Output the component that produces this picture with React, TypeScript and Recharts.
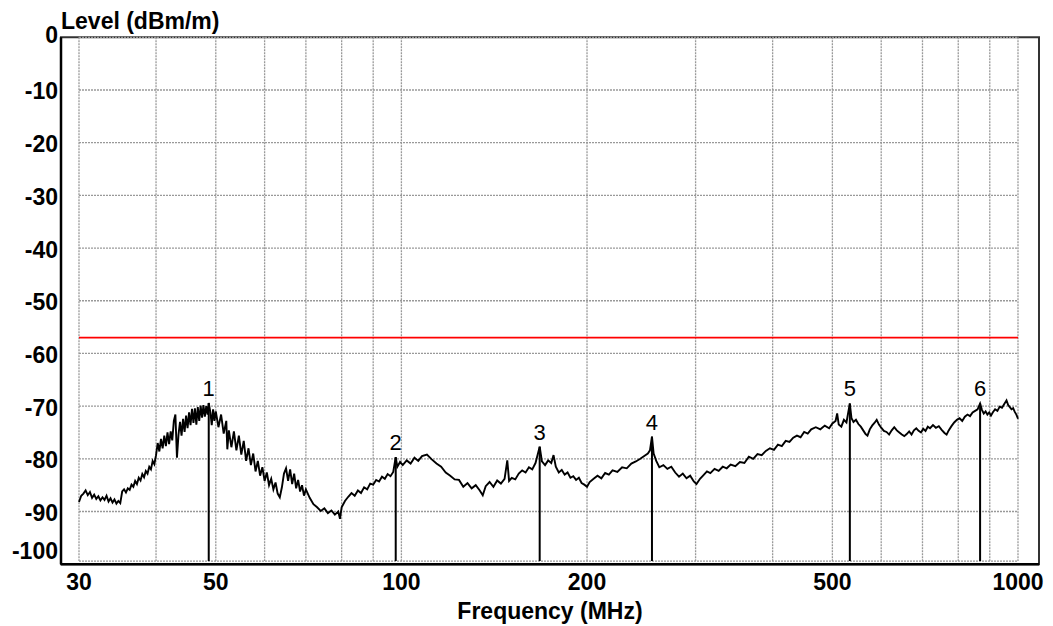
import React from 'react';
import {
  ComposedChart,
  Line,
  XAxis,
  YAxis,
  ReferenceLine,
  ReferenceArea,
  ReferenceDot,
} from 'recharts';

const FONT = '"Liberation Sans", Arial, sans-serif';

// Sweep frequencies (MHz)
const freqs: number[] = [
  30.0, 30.25, 30.5, 30.75, 31.0, 31.25, 31.5, 31.75, 32.0, 32.25, 32.5, 32.75, 33.0, 33.25, 33.5, 33.75,
  34.0, 34.25, 34.5, 34.75, 35.0, 35.25, 35.5, 35.75, 36.0, 36.25, 36.5, 36.75, 37.0, 37.25, 37.5, 37.75,
  38.0, 38.25, 38.5, 38.75, 39.0, 39.25, 39.5, 39.75, 40.0, 40.25, 40.5, 40.75, 41.0, 41.25, 41.5, 41.75,
  42.0, 42.25, 42.5, 42.75, 43.0, 43.25, 43.5, 43.75, 44.0, 44.25, 44.5, 44.75, 45.0, 45.25, 45.5, 45.75,
  46.0, 46.25, 46.5, 46.75, 47.0, 47.25, 47.5, 47.75, 48.0, 48.25, 48.5, 48.7, 49.0, 49.25, 49.5, 49.75,
  50.0, 50.5, 51.0, 51.5, 52.0, 52.2, 52.5, 53.0, 53.5, 54.0, 54.5, 55.0, 55.5, 56.0, 56.5, 57.0,
  57.5, 58.0, 58.5, 59.0, 59.5, 60.0, 60.5, 61.0, 61.5, 62.0, 62.5, 63.0, 63.5, 64.0, 64.5, 65.0,
  65.5, 66.0, 66.5, 67.0, 67.5, 68.0, 68.5, 69.0, 69.5, 70.0, 71.0, 72.0, 73.0, 74.0, 75.0, 76.0,
  77.0, 78.0, 79.0, 79.5, 80.0, 81.0, 82.0, 83.0, 84.0, 85.0, 86.0, 87.0, 88.0, 89.0, 90.0, 91.0,
  92.0, 93.0, 94.0, 95.0, 96.0, 97.0, 97.9, 98.5, 99.5, 100.5, 102, 103.5, 105, 106.5, 108, 110,
  112, 114, 116, 118, 120, 122, 124, 126, 128, 130, 132, 134, 135.5, 137, 139, 141,
  143, 145, 147, 148.5, 149.5, 151, 153, 155, 157, 159, 161, 163, 165, 167.6, 169, 171,
  173, 175, 176.5, 178, 180, 182, 184, 186, 188, 190, 192, 194, 196, 198, 200, 202,
  205, 208, 211, 214, 217, 220, 224, 228, 232, 236, 240, 244, 248, 251, 253, 254.9,
  256.5, 259, 262, 266, 270, 274, 278, 282, 286, 290, 294, 298, 301, 305, 309, 313,
  317, 322, 327, 332, 337, 342, 348, 354, 360, 366, 372, 378, 384, 390, 396, 402,
  408, 414, 420, 426, 432, 438, 444, 450, 456, 462, 470, 478, 486, 494, 500, 506,
  509, 512, 517, 522, 527, 533.7, 537, 541, 546, 551, 556, 561, 566, 570, 575, 580,
  585, 590, 595, 600, 606, 612, 618, 624, 630, 636, 642, 648, 654, 660, 666, 672,
  678, 684, 690, 696, 702, 708, 714, 720, 728, 736, 744, 752, 760, 766, 772, 780,
  788, 796, 804, 812, 820, 828, 836, 844, 852, 860, 868, 874, 880, 886, 892, 898,
  904, 910, 918, 926, 934, 942, 950, 958, 964, 970, 976, 982, 988, 994, 1000,
];

// Measured level (dBm/m)
const levels: number[] = [
  -88.2, -87.0, -86.6, -86.0, -86.9, -86.3, -87.4, -86.8, -87.6, -87.1, -87.9, -87.3, -87.8, -87.0, -88.1, -87.5,
  -88.3, -87.7, -88.5, -88.0, -88.4, -86.2, -85.8, -86.4, -85.6, -85.9, -84.9, -85.3, -84.2, -84.8, -83.6, -84.1,
  -82.9, -83.5, -82.3, -82.8, -81.5, -82.0, -80.4, -81.0, -79.3, -77.0, -78.6, -76.2, -78.0, -75.6, -77.6, -75.0,
  -77.2, -74.8, -76.5, -72.8, -71.6, -79.8, -75.4, -73.0, -75.6, -72.4, -74.9, -71.8, -74.2, -71.2, -73.6, -70.5,
  -73.2, -70.4, -73.5, -70.2, -72.8, -69.9, -72.2, -69.8, -72.0, -70.0, -71.6, -69.4, -71.2, -73.6, -70.6, -72.8,
  -71.0, -74.0, -71.6, -75.2, -72.8, -78.2, -74.6, -77.8, -74.8, -78.4, -75.6, -79.2, -76.6, -80.4, -78.0, -81.2,
  -79.0, -82.4, -80.4, -83.2, -81.6, -84.2, -82.6, -85.0, -83.8, -85.8, -84.5, -86.6, -87.3, -85.4, -82.8, -81.8,
  -84.2, -82.0, -84.8, -82.8, -85.6, -84.0, -86.2, -85.0, -87.0, -85.8, -87.4, -88.6, -89.2, -89.9, -89.4, -90.3,
  -89.8, -90.6, -90.0, -91.4, -89.2, -88.0, -87.2, -86.5, -87.0, -86.0, -86.5, -85.4, -85.8, -84.7, -84.9, -84.0,
  -84.3, -83.4, -83.8, -82.9, -83.3, -82.5, -79.7, -81.5, -80.6, -81.2, -80.3, -80.9, -79.8, -80.4, -79.5, -79.2,
  -80.1, -80.9, -81.5, -82.6, -83.2, -83.9, -84.0, -85.3, -84.6, -85.6, -85.0, -86.0, -86.9, -85.2, -84.4, -85.3,
  -84.1, -84.7, -83.8, -80.3, -84.2, -83.6, -83.9, -82.8, -82.2, -82.6, -81.6, -82.0, -80.8, -77.7, -80.5, -81.2,
  -80.3, -80.8, -79.3, -81.5, -82.6, -82.1, -83.0, -82.6, -83.6, -83.3, -84.0, -83.6, -84.6, -84.9, -85.3, -84.4,
  -83.8, -83.2, -83.7, -82.7, -83.0, -82.2, -82.5, -81.6, -81.8, -80.9, -80.5, -80.0, -79.4, -79.0, -78.4, -75.8,
  -79.0, -80.4, -81.6, -81.2, -81.9, -81.5, -82.6, -83.4, -82.8, -83.7, -83.2, -84.3, -84.8, -83.8, -83.1, -82.4,
  -82.7, -81.9, -82.3, -81.5, -81.8, -81.1, -81.4, -80.6, -80.8, -79.6, -80.0, -79.1, -79.3, -78.5, -78.0, -78.3,
  -77.3, -77.6, -76.6, -76.8, -76.0, -75.6, -75.9, -74.9, -75.2, -74.4, -74.0, -74.4, -73.7, -74.2, -73.3, -72.8,
  -71.4, -73.5, -73.9, -72.6, -73.1, -69.5, -72.3, -73.0, -72.6, -73.4, -73.9, -74.6, -75.3, -75.6, -74.4, -73.7,
  -73.2, -72.6, -73.5, -74.1, -74.7, -74.9, -75.4, -74.6, -74.0, -74.6, -75.0, -75.4, -75.7, -75.3, -74.8, -75.4,
  -74.6, -74.2, -74.7, -75.0, -74.3, -74.7, -73.9, -74.2, -73.6, -74.1, -73.8, -74.5, -75.1, -75.4, -74.6, -73.8,
  -73.1, -72.6, -72.3, -72.8, -72.0, -71.6, -71.9, -71.2, -70.9, -70.6, -69.5, -70.7, -71.4, -71.0, -71.6, -71.2,
  -71.8, -71.2, -70.6, -70.9, -70.1, -70.3, -69.6, -68.9, -69.8, -70.2, -70.6, -70.4, -71.1, -71.6, -72.4,
];

// Markers
const markerLabels: string[] = ['1', '2', '3', '4', '5', '6'];
const markerFreqs: number[] = [48.7, 97.9, 167.6, 254.9, 533.7, 868];
const markerLevels: number[] = [-69.4, -79.7, -77.7, -75.8, -69.5, -69.5];

// Limit line
const limitLevel = -57;

// Axes
const xTicks: number[] = [30, 50, 100, 200, 500, 1000];
const xGrid: number[] = [30, 40, 50, 60, 70, 80, 90, 100, 200, 300, 400, 500, 600, 700, 800, 900, 1000];
const yTicks: number[] = [0, -10, -20, -30, -40, -50, -60, -70, -80, -90, -100];
const yGrid: number[] = [0, -10, -20, -30, -40, -50, -60, -70, -80, -90, -99.4];

const X_MIN = 28.05;
const X_MAX = 1081.6;
const GRID_BOTTOM = -99.4;

const data = freqs.map((f, i) => ({ f, level: levels[i] }));

const YTick = (props: any) => {
  const { y, payload } = props;
  const v = payload.value;
  let dy = 9.5;
  if (v === 0) dy = 6;
  if (v === -100) dy = -5;
  return (
    <text x={58} y={y + dy} textAnchor="end" fontFamily={FONT} fontWeight="bold" fontSize={23} fill="#000">
      {v}
    </text>
  );
};

const XTick = (props: any) => {
  const { x, payload } = props;
  return (
    <text x={x} y={590} textAnchor="middle" fontFamily={FONT} fontWeight="bold" fontSize={23} fill="#000">
      {payload.value}
    </text>
  );
};

export default function App() {
  return (
    <div style={{ position: 'absolute', left: 0, top: 0, width: 1053, height: 626, background: '#fff' }}>
      <ComposedChart
        width={1053}
        height={626}
        data={data}
        margin={{ top: 37.3, right: 14, bottom: 31.8, left: 0 }}
      >
        <XAxis
          dataKey="f"
          type="number"
          scale="log"
          domain={[X_MIN, X_MAX]}
          allowDataOverflow
          ticks={xTicks}
          tick={<XTick />}
          tickLine={false}
          axisLine={{ stroke: '#000', strokeWidth: 2.5 }}
          height={30}
        />
        <YAxis
          type="number"
          domain={[-100, 0]}
          allowDataOverflow
          ticks={yTicks}
          tick={<YTick />}
          tickLine={false}
          axisLine={{ stroke: '#000', strokeWidth: 2.5 }}
          width={61}
          interval={0}
        />
        {xGrid.map((g) => (
          <ReferenceLine
            key={'vx' + g}
            segment={[{ x: g, y: 0 }, { x: g, y: GRID_BOTTOM }]}
            stroke="#999"
            strokeWidth={1.3}
            strokeDasharray="2 1"
          />
        ))}
        {yGrid.map((g) => (
          <ReferenceLine
            key={'hy' + g}
            segment={[{ x: 30, y: g }, { x: 1000, y: g }]}
            stroke="#999"
            strokeWidth={1.3}
            strokeDasharray="2 1"
          />
        ))}
        <ReferenceLine
          segment={[{ x: 30, y: limitLevel }, { x: 1000, y: limitLevel }]}
          stroke="#ff0000"
          strokeWidth={1.6}
        />
        <Line
          dataKey="level"
          type="linear"
          stroke="#000"
          strokeWidth={1.9}
          dot={false}
          isAnimationActive={false}
        />
        {markerFreqs.map((mf, i) => (
          <ReferenceLine
            key={'m' + i}
            segment={[{ x: mf, y: markerLevels[i] }, { x: mf, y: GRID_BOTTOM }]}
            stroke="#000"
            strokeWidth={2}
          />
        ))}
        {markerFreqs.map((mf, i) => (
          <ReferenceDot
            key={'ml' + i}
            x={mf}
            y={markerLevels[i]}
            r={0.01}
            fill="none"
            stroke="none"
            label={{
              value: markerLabels[i],
              position: 'top',
              offset: 7,
              fill: '#000',
              fontSize: 22,
              fontFamily: FONT,
            }}
          />
        ))}
        <ReferenceArea
          x1={X_MIN}
          x2={X_MAX}
          y1={-100}
          y2={0}
          fill="none"
          fillOpacity={0}
          stroke="#333"
          strokeWidth={2}
        />
      </ComposedChart>
      <div
        style={{
          position: 'absolute',
          left: 61,
          top: 7,
          fontFamily: FONT,
          fontWeight: 'bold',
          fontSize: 23,
          lineHeight: '28px',
          color: '#000',
          whiteSpace: 'nowrap',
        }}
      >
        Level (dBm/m)
      </div>
      <div
        style={{
          position: 'absolute',
          left: 450,
          top: 597,
          width: 200,
          textAlign: 'center',
          fontFamily: FONT,
          fontWeight: 'bold',
          fontSize: 23,
          lineHeight: '28px',
          color: '#000',
          whiteSpace: 'nowrap',
        }}
      >
        Frequency (MHz)
      </div>
    </div>
  );
}
